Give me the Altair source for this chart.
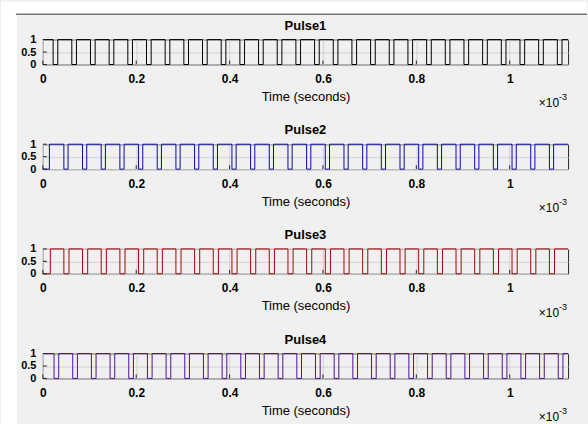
import altair as alt
import pandas as pd

FONT = "Liberation Sans"
AXIS_COLOR = "#262626"
GRID_COLOR = "#d2d2d2"

# ---- data (times in microseconds) ----
T_END_US = 1125
X_TICKS = [0, 0.2, 0.4, 0.6, 0.8, 1.0]          # x tick labels (x 10^-3 s)
Y_TICKS = [0, 0.5, 1]

PULSE_NAMES = ["Pulse1", "Pulse2", "Pulse3", "Pulse4"]
PULSE_COLORS = ["#000000", "#0a0a9c", "#9c0a0a", "#4b1496"]
PULSE_START = [1, 0, 0, 1]

P1_FALL = [22, 62, 102, 142, 182, 222, 262, 302, 342, 382, 422, 462, 502, 542,
           582, 622, 662, 702, 742, 782, 822, 862, 902, 942, 982, 1022, 1062, 1102]
P1_RISE = [32, 72, 112, 152, 192, 232, 272, 312, 352, 392, 432, 472, 512, 552,
           592, 632, 672, 712, 752, 792, 832, 872, 912, 952, 992, 1032, 1072, 1112]

P2_RISE = [14, 54, 94, 134, 174, 214, 254, 294, 334, 374, 414, 454, 494, 534,
           574, 614, 654, 694, 734, 774, 814, 854, 894, 934, 974, 1014, 1054, 1094]
P2_FALL = [45, 85, 125, 165, 205, 245, 285, 325, 365, 405, 445, 485, 525, 565,
           605, 645, 685, 725, 765, 805, 845, 885, 925, 965, 1005, 1045, 1085]

P3_RISE = [16, 56, 96, 136, 176, 216, 256, 296, 336, 376, 416, 456, 496, 536,
           576, 616, 656, 696, 736, 776, 816, 856, 896, 936, 976, 1016, 1056, 1096]
P3_FALL = [45, 85, 125, 165, 205, 245, 285, 325, 365, 405, 445, 485, 525, 565,
           605, 645, 685, 725, 765, 805, 845, 885, 925, 965, 1005, 1045, 1085]

P4_FALL = [24, 64, 104, 144, 184, 224, 264, 304, 344, 384, 424, 464, 504, 544,
           584, 624, 664, 704, 744, 784, 824, 864, 904, 944, 984, 1024, 1064, 1104]
P4_RISE = [34, 74, 114, 154, 194, 234, 274, 314, 354, 394, 434, 474, 514, 554,
           594, 634, 674, 714, 754, 794, 834, 874, 914, 954, 994, 1034, 1074, 1114]

PULSE_RISES = [P1_RISE, P2_RISE, P3_RISE, P4_RISE]
PULSE_FALLS = [P1_FALL, P2_FALL, P3_FALL, P4_FALL]

W, H = 527, 25


def pulse_table(start, rises, falls):
    edges = sorted([(t, 1) for t in rises] + [(t, 0) for t in falls])
    pts = [(0, start)] + edges
    pts.append((T_END_US, pts[-1][1]))
    return pd.DataFrame({"t": [p[0] / 1000 for p in pts], "v": [p[1] for p in pts]})


def x_enc():
    return alt.X(
        "t:Q",
        scale=alt.Scale(domain=[0, T_END_US / 1000], nice=False, zero=False),
        axis=alt.Axis(values=X_TICKS, format="~g", title="Time (seconds)",
                      labelFlush=False, labelOverlap=False, ticks=False, tickSize=0,
                      domain=False, grid=True, gridColor=GRID_COLOR, gridWidth=1,
                      labelPadding=9, labelFontSize=12, labelFontWeight="bold",
                      labelColor="#000000", titleFontSize=13, titleFontWeight="normal",
                      titleColor="#000000", titlePadding=6),
    )


def y_enc():
    return alt.Y(
        "v:Q",
        scale=alt.Scale(domain=[0, 1], nice=False, zero=False),
        axis=alt.Axis(values=Y_TICKS, format="~g", title=None, labelOverlap=False,
                      ticks=False, tickSize=0, domain=False, grid=True,
                      gridColor=GRID_COLOR, gridWidth=1, labelPadding=7,
                      labelFontSize=11, labelFontWeight="bold", labelColor="#000000",
                      labelBaseline="middle"),
    )


one = pd.DataFrame({"k": [0]})


def panel(i):
    df = pulse_table(PULSE_START[i], PULSE_RISES[i], PULSE_FALLS[i])
    line = alt.Chart(df).mark_line(
        interpolate="step-after", color=PULSE_COLORS[i], strokeWidth=1
    ).encode(x=x_enc(), y=y_enc())
    xt = alt.Chart(pd.DataFrame({"t": X_TICKS})).mark_rule(
        color=AXIS_COLOR, strokeWidth=1
    ).encode(x=x_enc(), y=alt.value(H), y2=alt.value(H - 4))
    yt = alt.Chart(pd.DataFrame({"v": Y_TICKS})).mark_rule(
        color=AXIS_COLOR, strokeWidth=1
    ).encode(y=y_enc(), x=alt.value(0), x2=alt.value(4))
    ttl = alt.Chart(one).mark_text(
        text=PULSE_NAMES[i], align="center", baseline="alphabetic", fontSize=13,
        fontWeight="bold", font=FONT, color="#000000"
    ).encode(x=alt.value(W / 2), y=alt.value(-10))
    e10 = alt.Chart(one).mark_text(
        text="\u00d710", align="right", baseline="alphabetic", fontSize=12,
        font=FONT, color="#000000"
    ).encode(x=alt.value(518), y=alt.value(68))
    e3 = alt.Chart(one).mark_text(
        text="-3", align="left", baseline="alphabetic", fontSize=9,
        font=FONT, color="#000000"
    ).encode(x=alt.value(518), y=alt.value(61))
    layers = [line, xt, yt, ttl, e10, e3]
    if i == 0:
        left = alt.Chart(one).mark_rect(color="#ffffff").encode(
            x=alt.value(-42), x2=alt.value(-26), y=alt.value(-38), y2=alt.value(386))
        top = alt.Chart(one).mark_rect(color="#ffffff").encode(
            x=alt.value(-42), x2=alt.value(546), y=alt.value(-38), y2=alt.value(-26))
        rule = alt.Chart(one).mark_rule(color="#3a3a3a", strokeWidth=1).encode(
            x=alt.value(-27), x2=alt.value(546), y=alt.value(-25.5))
        layers = [left, top, rule] + layers
    return alt.layer(*layers).properties(width=W, height=H)


chart = alt.vconcat(*[panel(i) for i in range(4)], spacing=80, bounds="flush").properties(
    padding=0
).configure(
    background="#f0f0f0", font=FONT
).configure_view(
    stroke=AXIS_COLOR, strokeWidth=1
).configure_axis(
    labelFont=FONT, titleFont=FONT
)

chart.save("out.html", embed_options={"renderer": "svg", "actions": False})
